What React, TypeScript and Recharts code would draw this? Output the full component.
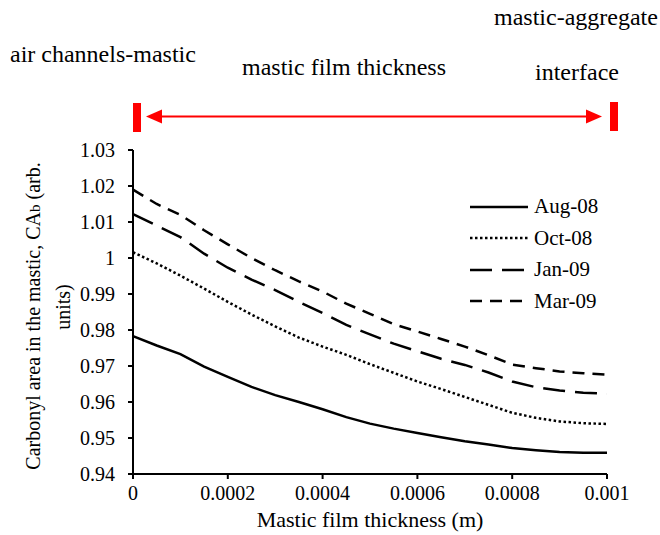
import React from 'react';
import { LineChart, Line, XAxis, YAxis } from 'recharts';

// mastic film thickness (m)
const thickness = [
  0, 0.00005, 0.0001, 0.00015, 0.0002, 0.00025, 0.0003, 0.00035, 0.0004, 0.00045, 0.0005,
  0.00055, 0.0006, 0.00065, 0.0007, 0.00075, 0.0008, 0.00085, 0.0009, 0.00095, 0.001,
];

// carbonyl area
const aug08 = [
  0.9783, 0.9757, 0.9733, 0.9698, 0.967, 0.9642, 0.9619, 0.96, 0.958, 0.9558, 0.954,
  0.9526, 0.9514, 0.9502, 0.9491, 0.9482, 0.9472, 0.9466, 0.9461, 0.9459, 0.9459,
];
const oct08 = [
  1.0016, 0.9985, 0.9951, 0.9915, 0.9878, 0.9843, 0.981, 0.9779, 0.9754, 0.9731, 0.9705,
  0.9681, 0.9657, 0.9636, 0.9614, 0.9592, 0.957, 0.9556, 0.9546, 0.9541, 0.9539,
];
const jan09 = [
  1.0122, 1.009, 1.0058, 1.0012, 0.9973, 0.994, 0.9911, 0.9878, 0.9847, 0.9814, 0.9788,
  0.9762, 0.9741, 0.972, 0.9703, 0.9682, 0.9657, 0.9641, 0.9632, 0.9626, 0.9623,
];
const mar09 = [
  1.019, 1.015, 1.012, 1.0077, 1.0038, 1.0, 0.9966, 0.9935, 0.9907, 0.9873, 0.9845,
  0.9816, 0.9796, 0.9775, 0.9754, 0.973, 0.9704, 0.9694, 0.9685, 0.968, 0.9676,
];

const xTicks = [0, 0.0002, 0.0004, 0.0006, 0.0008, 0.001];
const yTicks = [0.94, 0.95, 0.96, 0.97, 0.98, 0.99, 1.0, 1.01, 1.02, 1.03];

const FONT = "'Liberation Serif', 'Times New Roman', serif";

const series = [
  { key: 'aug08', name: 'Aug-08', dash: undefined as string | undefined },
  { key: 'oct08', name: 'Oct-08', dash: '2.5 2.5' },
  { key: 'jan09', name: 'Jan-09', dash: '22 10' },
  { key: 'mar09', name: 'Mar-09', dash: '12 8' },
];

const data = thickness.map((x, i) => ({
  x,
  aug08: aug08[i],
  oct08: oct08[i],
  jan09: jan09[i],
  mar09: mar09[i],
}));

const fmtX = (v: number) => String(Number(v.toFixed(4)));
const fmtY = (v: number) => String(Number(v.toFixed(2)));

const txt = { fontFamily: FONT, fill: '#000' };

const XTitle = (props: any) => {
  const vb = props.viewBox;
  return (
    <text x={vb.x + vb.width / 2} y={527} textAnchor="middle" fontSize={22} style={txt}>
      Mastic film thickness (m)
    </text>
  );
};

const YTitle = () => (
  <g>
    <text transform="translate(40,316) rotate(-90)" textAnchor="middle" fontSize={20} style={txt}>
      Carbonyl area in the mastic, CA<tspan fontSize={15}>b</tspan> (arb.
    </text>
    <text transform="translate(70,307) rotate(-90)" textAnchor="middle" fontSize={20} style={txt}>
      units)
    </text>
  </g>
);

const LegendBox = () => (
  <div style={{ position: 'absolute', left: 468, top: 191, fontFamily: FONT, fontSize: 21, color: '#000' }}>
    {series.map((s) => (
      <div key={s.key} style={{ display: 'flex', alignItems: 'center', height: 31.5 }}>
        <svg width={62} height={10}>
          <line x1={2} x2={60} y1={5} y2={5} stroke="#000" strokeWidth={2.5} strokeDasharray={s.dash} />
        </svg>
        <span style={{ marginLeft: 4 }}>{s.name}</span>
      </div>
    ))}
  </div>
);

const Annotations = () => (
  <svg width={660} height={140} style={{ position: 'absolute', left: 0, top: 0 }}>
    <text x={10} y={62} fontSize={24} style={txt}>air channels-mastic</text>
    <text x={242} y={75} fontSize={24} style={txt}>mastic film thickness</text>
    <text x={494} y={25} fontSize={24} style={txt}>mastic-aggregate</text>
    <text x={535} y={80} fontSize={24} style={txt}>interface</text>
    <rect x={133} y={103} width={8} height={29} fill="#ff0000" />
    <rect x={610} y={102} width={8} height={29} fill="#ff0000" />
    <line x1={158} x2={590} y1={116.5} y2={116.5} stroke="#ff0000" strokeWidth={2} />
    <polygon points="146,116.5 162,109.5 162,123.5" fill="#ff0000" />
    <polygon points="602,116.5 586,109.5 586,123.5" fill="#ff0000" />
  </svg>
);

export default function App() {
  return (
    <div style={{ position: 'absolute', left: 0, top: 0, width: 660, height: 535, background: '#fff' }}>
      <LineChart
        width={660}
        height={535}
        data={data}
        margin={{ top: 150, right: 53, left: 0, bottom: 0 }}
        style={{ fontFamily: FONT }}
      >
        <XAxis
          type="number"
          dataKey="x"
          domain={[0, 0.001]}
          ticks={xTicks}
          tickFormatter={fmtX}
          height={61}
          tickSize={5}
          tickMargin={7}
          axisLine={{ stroke: '#000', strokeWidth: 2 }}
          tickLine={{ stroke: '#000', strokeWidth: 2 }}
          tick={{ fill: '#000', fontSize: 20, fontFamily: FONT }}
          label={{ content: XTitle }}
        />
        <YAxis
          type="number"
          domain={[0.94, 1.03]}
          ticks={yTicks}
          tickFormatter={fmtY}
          width={133}
          tickSize={5}
          tickMargin={13}
          axisLine={{ stroke: '#000', strokeWidth: 2 }}
          tickLine={{ stroke: '#000', strokeWidth: 2 }}
          tick={{ fill: '#000', fontSize: 20, fontFamily: FONT }}
          label={{ content: YTitle }}
        />
        {series.map((s) => (
          <Line
            key={s.key}
            dataKey={s.key}
            name={s.name}
            type="linear"
            stroke="#000"
            strokeWidth={2.5}
            strokeDasharray={s.dash}
            dot={false}
            activeDot={false}
            isAnimationActive={false}
          />
        ))}
      </LineChart>
      <Annotations />
      <LegendBox />
    </div>
  );
}
